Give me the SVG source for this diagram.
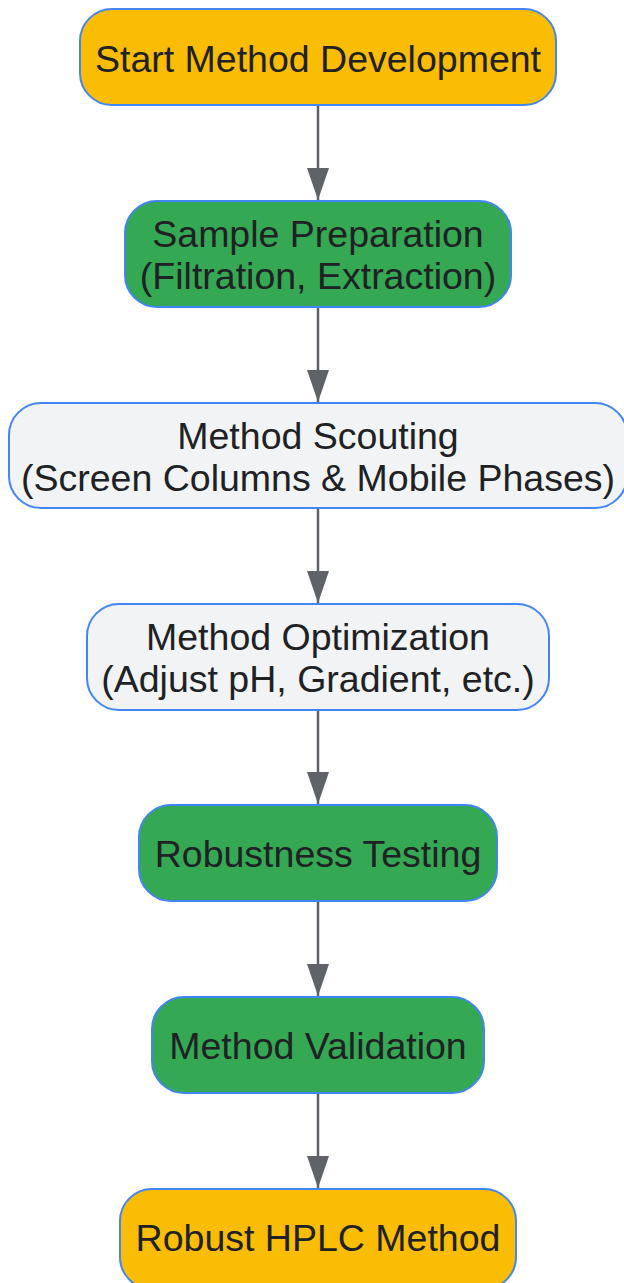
<svg xmlns="http://www.w3.org/2000/svg" width="624" height="1283" viewBox="0 0 624 1283">
<style>
.n{stroke:#4285F4;stroke-width:2}
.o{fill:#FBBC04}
.g{fill:#34A853}
.l{fill:#F1F3F4}
text{font-family:"Liberation Sans",Arial,sans-serif;font-size:37.5px;fill:#202124;text-anchor:middle}
.e{stroke:#5F6368;stroke-width:2.5;fill:none}
</style>
<defs>
<marker id="ah" markerWidth="32" markerHeight="22" refX="32" refY="11" orient="auto" markerUnits="userSpaceOnUse" viewBox="0 0 32 22">
<path d="M0,0 L32,11 L0,22 Z" fill="#5F6368"/>
</marker>
</defs>
<rect width="624" height="1283" fill="#ffffff"/>
<g id="connectors">
<line class="e" x1="318" y1="106" x2="318" y2="200" marker-end="url(#ah)"/>
<line class="e" x1="318" y1="308" x2="318" y2="402" marker-end="url(#ah)"/>
<line class="e" x1="318" y1="509" x2="318" y2="603" marker-end="url(#ah)"/>
<line class="e" x1="318" y1="711" x2="318" y2="804" marker-end="url(#ah)"/>
<line class="e" x1="318" y1="902" x2="318" y2="996" marker-end="url(#ah)"/>
<line class="e" x1="318" y1="1094" x2="318" y2="1188" marker-end="url(#ah)"/>
</g>
<g id="n1">
<rect class="n o" x="80" y="9" width="476" height="96" rx="32"/>
<text x="318" y="72">Start Method Development</text>
</g>
<g id="n2">
<rect class="n g" x="125" y="201" width="386" height="106" rx="32"/>
<text x="318" y="247">Sample Preparation</text>
<text x="318" y="289">(Filtration, Extraction)</text>
</g>
<g id="n3">
<rect class="n l" x="9" y="403" width="618" height="105" rx="32"/>
<text x="318" y="449">Method Scouting</text>
<text x="318" y="491">(Screen Columns &amp; Mobile Phases)</text>
</g>
<g id="n4">
<rect class="n l" x="87" y="604" width="462" height="106" rx="32"/>
<text x="318" y="650">Method Optimization</text>
<text x="318" y="692">(Adjust pH, Gradient, etc.)</text>
</g>
<g id="n5">
<rect class="n g" x="139" y="805" width="358" height="96" rx="32"/>
<text x="318" y="867">Robustness Testing</text>
</g>
<g id="n6">
<rect class="n g" x="152" y="997" width="332" height="96" rx="32"/>
<text x="318" y="1059">Method Validation</text>
</g>
<g id="n7">
<rect class="n o" x="120" y="1189" width="396" height="100" rx="32"/>
<text x="318" y="1251">Robust HPLC Method</text>
</g>
</svg>
